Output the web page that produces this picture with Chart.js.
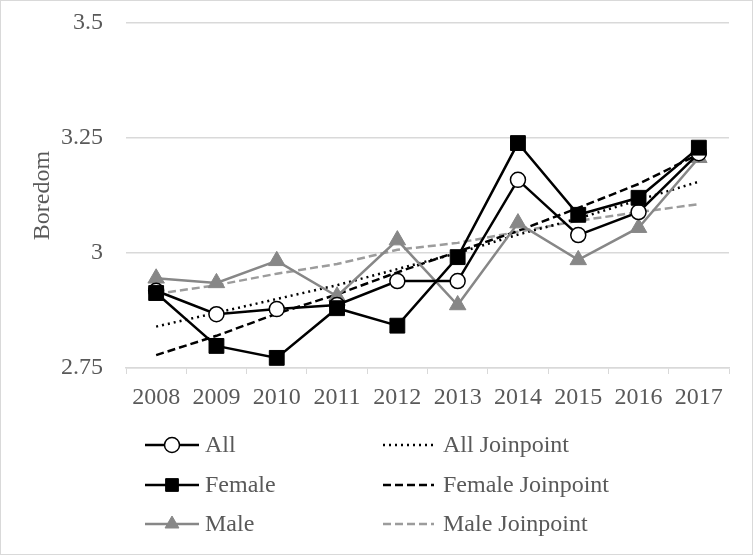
<!DOCTYPE html>
<html><head><meta charset="utf-8">
<script src="https://cdn.jsdelivr.net/npm/chart.js@4.4.0/dist/chart.umd.min.js"></script>
<style>html,body{margin:0;padding:0;background:#fff}canvas{display:block}</style>
</head><body>
<canvas id="c" width="753" height="555"></canvas>
<script>
const years = ['2008','2009','2010','2011','2012','2013','2014','2015','2016','2017'];
const allVals    = [2.918, 2.867, 2.878, 2.887, 2.939, 2.939, 3.159, 3.039, 3.089, 3.217];
const femaleVals = [2.913, 2.798, 2.772, 2.88, 2.842, 2.991, 3.239, 3.083, 3.12, 3.229];
const maleVals   = [2.945, 2.935, 2.983, 2.906, 3.028, 2.887, 3.065, 2.985, 3.055, 3.207];
const allJP      = [2.84, 2.87, 2.90, 2.93, 2.965, 3.00, 3.04, 3.075, 3.115, 3.155];
const femaleJP   = [2.778, 2.82, 2.868, 2.91, 2.958, 3.003, 3.048, 3.098, 3.15, 3.215];
const maleJP     = [2.911, 2.93, 2.955, 2.976, 3.007, 3.022, 3.046, 3.07, 3.089, 3.106];
const yTicks = [2.75, 3, 3.25, 3.5];

const FONT = "'Liberation Serif', 'Times New Roman', serif";
const FS = 24;
const TXT = '#595959';
const GRID = '#d9d9d9';
const MALE = '#878787';
const MALEJP = '#9c9c9c';

const legendPlugin = {
  id: 'gridLegend',
  beforeDraw(chart) {
    const ctx = chart.ctx;
    ctx.save();
    ctx.fillStyle = '#fff';
    ctx.fillRect(0, 0, chart.width, chart.height);
    ctx.strokeStyle = GRID;
    ctx.lineWidth = 1;
    ctx.strokeRect(0.5, 0.5, chart.width - 1, chart.height - 1);
    ctx.restore();
  },
  afterDraw(chart) {
    const ctx = chart.ctx;
    const ds = chart.data.datasets;
    const cols = [{x0: 145, x1: 199, tx: 205}, {x0: 383, x1: 434, tx: 443}];
    const rows = [445, 485, 524];
    ds.forEach((d) => {
      const col = cols[d.legendCol];
      const y = rows[d.legendRow];
      ctx.save();
      ctx.strokeStyle = d.borderColor;
      ctx.lineWidth = d.borderWidth;
      ctx.setLineDash(d.borderDash || []);
      ctx.beginPath();
      ctx.moveTo(col.x0, y);
      ctx.lineTo(col.x1, y);
      ctx.stroke();
      ctx.setLineDash([]);
      if (d.pointRadius > 0) {
        ctx.fillStyle = d.pointBackgroundColor;
        ctx.strokeStyle = d.pointBorderColor;
        ctx.lineWidth = d.pointBorderWidth;
        Chart.helpers.drawPoint(ctx, {
          pointStyle: d.pointStyle,
          rotation: 0,
          radius: d.legendRadius,
          borderWidth: d.pointBorderWidth
        }, (col.x0 + col.x1) / 2, y);
      }
      ctx.restore();
      ctx.save();
      ctx.fillStyle = TXT;
      ctx.font = FS + 'px ' + FONT;
      ctx.textBaseline = 'middle';
      ctx.fillText(d.label, col.tx, y + 1);
      ctx.restore();
    });
  }
};

new Chart(document.getElementById('c'), {
  type: 'line',
  data: {
    labels: years,
    datasets: [
      {label: 'All', data: allVals, borderColor: '#000', borderWidth: 2.5,
       pointStyle: 'circle', pointRadius: 7.5, pointBackgroundColor: '#fff', pointBorderColor: '#000', pointBorderWidth: 1.5,
       legendRadius: 7.5, legendCol: 0, legendRow: 0, order: 2},
      {label: 'All Joinpoint', data: allJP, borderColor: '#000', borderWidth: 2.5, borderDash: [2, 4], borderCapStyle: 'butt',
       pointRadius: 0, legendCol: 1, legendRow: 0, order: 5},
      {label: 'Female', data: femaleVals, borderColor: '#000', borderWidth: 2.5,
       pointStyle: 'rect', pointRadius: 10.5, pointBackgroundColor: '#000', pointBorderColor: '#000', pointBorderWidth: 1,
       legendRadius: 9, legendCol: 0, legendRow: 1, order: 1},
      {label: 'Female Joinpoint', data: femaleJP, borderColor: '#000', borderWidth: 2.5, borderDash: [8, 4],
       pointRadius: 0, legendCol: 1, legendRow: 1, order: 4},
      {label: 'Male', data: maleVals, borderColor: MALE, borderWidth: 2.5,
       pointStyle: 'triangle', pointRadius: 9.5, pointBackgroundColor: MALE, pointBorderColor: MALE, pointBorderWidth: 1,
       legendRadius: 8, legendCol: 0, legendRow: 2, order: 3},
      {label: 'Male Joinpoint', data: maleJP, borderColor: MALEJP, borderWidth: 2.5, borderDash: [8, 4],
       pointRadius: 0, legendCol: 1, legendRow: 2, order: 6}
    ]
  },
  options: {
    responsive: false,
    animation: false,
    devicePixelRatio: 1,
    layout: {padding: {top: 23, right: 24, left: 0, bottom: 0}},
    plugins: {legend: {display: false}, tooltip: {enabled: false}},
    elements: {line: {tension: 0}, point: {hoverRadius: 0}},
    scales: {
      x: {
        offset: true,
        grid: {offset: true, drawOnChartArea: false, color: GRID, tickLength: 6, lineWidth: 1},
        border: {display: true, color: GRID, width: 1.5},
        ticks: {color: TXT, font: {family: FONT, size: FS}, padding: 9, maxRotation: 0, autoSkip: false},
        afterFit(s) { s.height = 187; }
      },
      y: {
        min: 2.75, max: 3.5,
        afterBuildTicks(s) { s.ticks = yTicks.map(v => ({value: v})); },
        grid: {color: GRID, lineWidth: 1.5, drawTicks: false},
        border: {display: false},
        ticks: {color: TXT, font: {family: FONT, size: FS}, padding: 23,
                callback: v => String(v)},
        title: {display: true, text: 'Boredom', color: TXT, font: {family: FONT, size: FS},
                padding: {top: 28, bottom: 0}},
        afterFit(s) { s.width = 126; s.paddingTop = 10; s.paddingBottom = 10; }
      }
    }
  },
  plugins: [legendPlugin]
});
</script>
</body></html>
